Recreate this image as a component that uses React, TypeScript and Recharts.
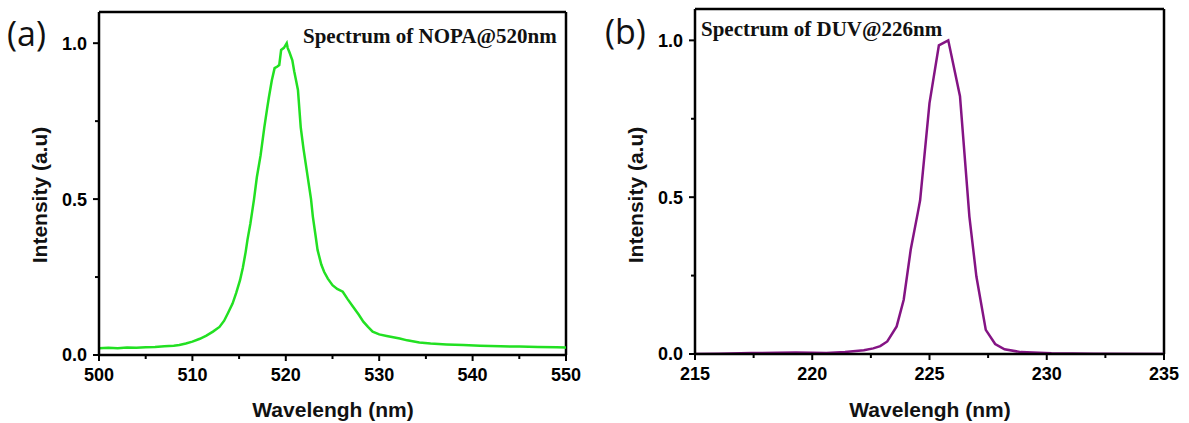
import React from "react";
import { LineChart, Line, XAxis, YAxis, ReferenceLine } from "recharts";

// ---------- Panel (a): NOPA spectrum ----------
const nopaWavelength = [
  500.0, 501.0, 502.0, 503.0, 504.0, 505.0, 506.0, 507.0, 508.0, 508.6, 509.3, 510.0,
  510.8, 511.5, 512.2, 512.9, 513.4, 513.8, 514.3, 514.7, 515.1, 515.4, 515.7, 515.9,
  516.2, 516.4, 516.6, 516.9, 517.3, 517.7, 518.0, 518.2, 518.5, 518.8, 519.1, 519.3,
  519.5, 519.8, 520.1, 520.2, 520.4, 520.7, 520.9, 521.1, 521.3, 521.6, 521.9, 522.2,
  522.5, 522.7, 522.9, 523.2, 523.4, 523.8, 524.1, 524.5, 525.0, 525.5, 526.1, 526.6,
  527.2, 527.8, 528.3, 528.8, 529.3, 530.0, 530.8, 531.5, 532.2, 533.0, 534.3, 535.5,
  537.2, 539.0, 540.8, 543.0, 545.0, 547.0, 549.0, 550.0,
];
const nopaIntensity = [
  0.022, 0.023, 0.022, 0.024, 0.023, 0.025, 0.026, 0.028, 0.030, 0.032, 0.037, 0.043,
  0.052, 0.062, 0.075, 0.090, 0.110, 0.134, 0.165, 0.200, 0.240, 0.280, 0.330, 0.370,
  0.420, 0.460, 0.500, 0.570, 0.640, 0.730, 0.790, 0.828, 0.880, 0.920, 0.925, 0.930,
  0.978, 0.985, 1.000, 0.985, 0.970, 0.945, 0.910, 0.880, 0.850, 0.730, 0.660, 0.600,
  0.540, 0.500, 0.443, 0.380, 0.337, 0.290, 0.267, 0.245, 0.224, 0.212, 0.203, 0.180,
  0.155, 0.130, 0.107, 0.090, 0.075, 0.066, 0.061, 0.057, 0.053, 0.047, 0.040, 0.037,
  0.034, 0.032, 0.030, 0.028, 0.027, 0.026, 0.025, 0.024,
];
const nopaXTicks = [500, 505, 510, 515, 520, 525, 530, 535, 540, 545, 550];
const nopaXMajor = [500, 510, 520, 530, 540, 550];

// ---------- Panel (b): DUV spectrum ----------
const duvWavelength = [
  215.0, 216.0, 217.4, 218.5, 219.3, 220.0, 220.6, 221.4, 222.2, 222.6, 222.9, 223.2,
  223.6, 223.9, 224.2, 224.5, 224.6, 225.0, 225.4, 225.8, 226.3, 226.6, 226.7, 227.0,
  227.4, 227.8, 228.2, 228.9, 230.2, 232.0, 235.0,
];
const duvIntensity = [
  0.000, 0.001, 0.003, 0.004, 0.005, 0.004, 0.003, 0.006, 0.012, 0.018, 0.025, 0.040,
  0.088, 0.173, 0.333, 0.450, 0.490, 0.800, 0.984, 1.000, 0.822, 0.535, 0.439, 0.247,
  0.077, 0.032, 0.015, 0.006, 0.002, 0.001, 0.000,
];
const duvXTicks = [215, 217.5, 220, 222.5, 225, 227.5, 230, 232.5, 235];
const duvXMajor = [215, 220, 225, 230, 235];

const yTicks = [0, 0.25, 0.5, 0.75, 1.0];
const yMajor = [0, 0.5, 1.0];
const yMax = 1.1;

const nopaData = nopaWavelength.map((x, i) => ({ x, y: nopaIntensity[i] }));
const duvData = duvWavelength.map((x, i) => ({ x, y: duvIntensity[i] }));

const SANS = "'Liberation Sans', Arial, sans-serif";
const SERIF = "'Liberation Serif', 'Times New Roman', serif";

const isIn = (arr: number[], v: number) => arr.some((m) => Math.abs(m - v) < 1e-9);

function makeXTick(majors: number[]) {
  return (props: any) => {
    const { x, y, payload } = props;
    const v = payload.value;
    const major = isIn(majors, v);
    return (
      <g>
        <line x1={x} x2={x} y1={y} y2={y + (major ? 6 : 4)} stroke="#000" strokeWidth={2} />
        {major && (
          <text x={x} y={y + 26} textAnchor="middle" fontFamily={SANS} fontWeight="bold" fontSize={18} fill="#000">
            {v}
          </text>
        )}
      </g>
    );
  };
}

function makeYTick(majors: number[]) {
  return (props: any) => {
    const { x, y, payload } = props;
    const v = payload.value;
    const major = isIn(majors, v);
    return (
      <g>
        <line x1={x} x2={x - (major ? 6 : 4)} y1={y} y2={y} stroke="#000" strokeWidth={2} />
        {major && (
          <text x={x - 12} y={y} dy="0.36em" textAnchor="end" fontFamily={SANS} fontWeight="bold" fontSize={18} fill="#000">
            {v.toFixed(1)}
          </text>
        )}
      </g>
    );
  };
}

const axisLine = { stroke: "#000", strokeWidth: 2.5 };

function Panel(props: {
  data: { x: number; y: number }[];
  domain: [number, number];
  ticks: number[];
  majors: number[];
  color: string;
  width: number;
  margin: { top: number; right: number; bottom: number; left: number };
}) {
  const { data, domain, ticks, majors, color, width, margin } = props;
  return (
    <LineChart width={width} height={423} data={data} margin={margin}>
      <XAxis
        dataKey="x"
        type="number"
        domain={domain}
        ticks={ticks}
        interval={0}
        allowDataOverflow
        height={30}
        tickSize={0}
        tickMargin={0}
        tickLine={false}
        axisLine={axisLine}
        tick={makeXTick(majors)}
      />
      <YAxis
        type="number"
        domain={[0, yMax]}
        ticks={yTicks}
        interval={0}
        allowDataOverflow
        width={50}
        tickSize={0}
        tickMargin={0}
        tickLine={false}
        axisLine={axisLine}
        tick={makeYTick(yMajor)}
      />
      <ReferenceLine y={yMax} stroke="#000" strokeWidth={2.5} ifOverflow="visible" />
      <ReferenceLine x={domain[1]} stroke="#000" strokeWidth={2.5} ifOverflow="visible" />
      <Line
        type="linear"
        dataKey="y"
        stroke={color}
        strokeWidth={2.5}
        dot={false}
        isAnimationActive={false}
      />
    </LineChart>
  );
}

export default function App() {
  return (
    <div style={{ position: "absolute", left: 0, top: 0, width: 1189, height: 423, background: "#fff", overflow: "hidden" }}>
      <div style={{ position: "absolute", left: 0, top: 0 }}>
        <Panel
          data={nopaData}
          domain={[500, 550]}
          ticks={nopaXTicks}
          majors={nopaXMajor}
          color="#22e022"
          width={600}
          margin={{ top: 12, right: 34, bottom: 38, left: 49 }}
        />
      </div>
      <div style={{ position: "absolute", left: 600, top: 0 }}>
        <Panel
          data={duvData}
          domain={[215, 235]}
          ticks={duvXTicks}
          majors={duvXMajor}
          color="#841484"
          width={589}
          margin={{ top: 9, right: 25, bottom: 39, left: 45 }}
        />
      </div>
      <svg width={1189} height={423} style={{ position: "absolute", left: 0, top: 0, pointerEvents: "none" }}>
        <text x={7} y={46} fontFamily="'Open Sans', sans-serif" fontSize={34} fill="#111">(a)</text>
        <text x={605} y={44} fontFamily="'Open Sans', sans-serif" fontSize={34} fill="#111">(b)</text>
        <text x={303} y={43} fontFamily={SERIF} fontWeight="bold" fontSize={21} fill="#111">Spectrum of NOPA@520nm</text>
        <text x={701} y={36} fontFamily={SERIF} fontWeight="bold" fontSize={21} fill="#111">Spectrum of DUV@226nm</text>
        <text x={333} y={417} textAnchor="middle" fontFamily={SANS} fontWeight="bold" fontSize={21} fill="#111">Wavelengh (nm)</text>
        <text x={930} y={417} textAnchor="middle" fontFamily={SANS} fontWeight="bold" fontSize={21} fill="#111">Wavelengh (nm)</text>
        <text transform="translate(47,195) rotate(-90)" textAnchor="middle" fontFamily={SANS} fontWeight="bold" fontSize={21} fill="#111">Intensity (a.u)</text>
        <text transform="translate(643,195) rotate(-90)" textAnchor="middle" fontFamily={SANS} fontWeight="bold" fontSize={21} fill="#111">Intensity (a.u)</text>
      </svg>
    </div>
  );
}
